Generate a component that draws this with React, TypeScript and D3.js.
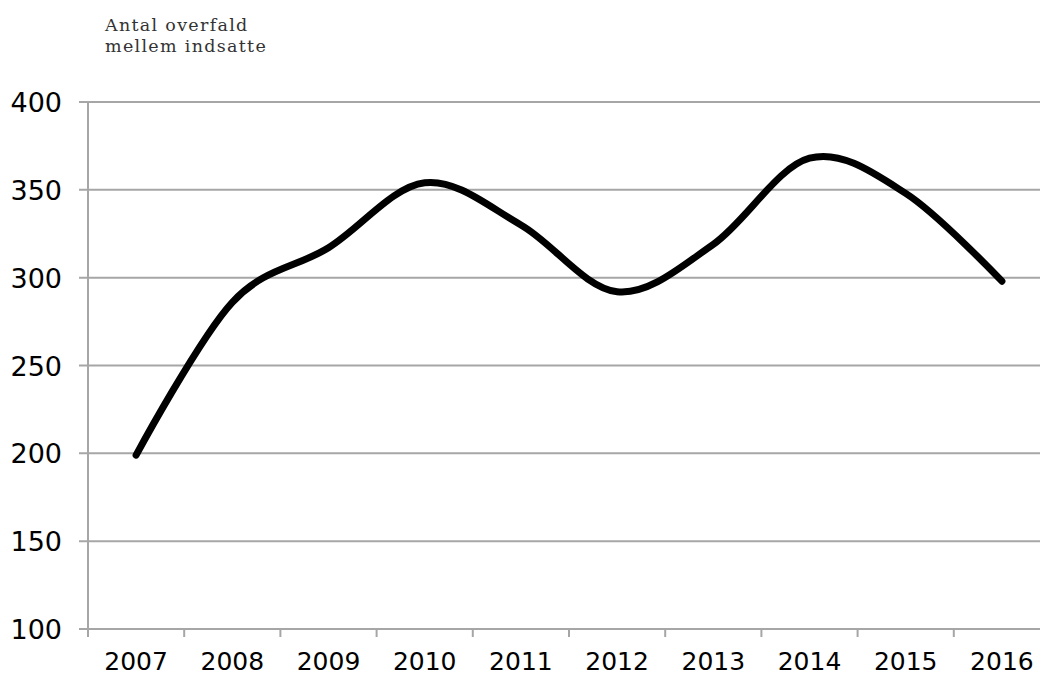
import React from "react";
import * as d3 from "d3";

const years = ["2007", "2008", "2009", "2010", "2011", "2012", "2013", "2014", "2015", "2016"];
const values = [199, 286, 317, 354, 330, 292, 319, 368, 348, 298];
const yTicks = [100, 150, 200, 250, 300, 350, 400];
const titleLines = ["Antal overfald", "mellem indsatte"];

export default function App() {
  const W = 1040, H = 677;
  const left = 88, right = 1050, top = 102, bottom = 629;
  const x = d3.scaleBand<string>().domain(years).range([left, right]);
  const y = d3.scaleLinear().domain([100, 400]).range([bottom, top]);
  const line = d3
    .line<number>()
    .x((_, i) => (x(years[i]) as number) + x.bandwidth() / 2)
    .y((d) => y(d))
    .curve(d3.curveCatmullRom.alpha(0));
  const grid = "#a6a6a6";
  const tickLines = years.map((_, i) => left + i * x.step()).concat([right]);
  return (
    <svg width={W} height={H} style={{ position: "absolute", left: 0, top: 0, background: "#fff" }}>
      <rect width={W} height={H} fill="#fff" />
      {titleLines.map((t, i) => (
        <text key={t} x={105} y={31 + i * 21} fontFamily="DejaVu Serif" fontSize={17.5} letterSpacing={1.3} fill="#333">
          {t}
        </text>
      ))}
      {yTicks.map((v) => (
        <g key={v}>
          <line x1={79} x2={right} y1={y(v)} y2={y(v)} stroke={grid} strokeWidth={2} />
          <text x={62} y={y(v) + 10} textAnchor="end" fontFamily="DejaVu Sans" fontSize={27} fill="#000">
            {v}
          </text>
        </g>
      ))}
      <line x1={left} x2={left} y1={top} y2={bottom + 8} stroke={grid} strokeWidth={2} />
      {tickLines.map((tx, i) => (
        <line key={i} x1={tx} x2={tx} y1={bottom} y2={bottom + 8} stroke={grid} strokeWidth={2} />
      ))}
      {years.map((yr) => (
        <text
          key={yr}
          x={(x(yr) as number) + x.bandwidth() / 2}
          y={670}
          textAnchor="middle"
          fontFamily="DejaVu Sans"
          fontSize={25}
          fill="#000"
        >
          {yr}
        </text>
      ))}
      <path d={line(values) || ""} fill="none" stroke="#000" strokeWidth={7} strokeLinecap="round" strokeLinejoin="round" />
    </svg>
  );
}
